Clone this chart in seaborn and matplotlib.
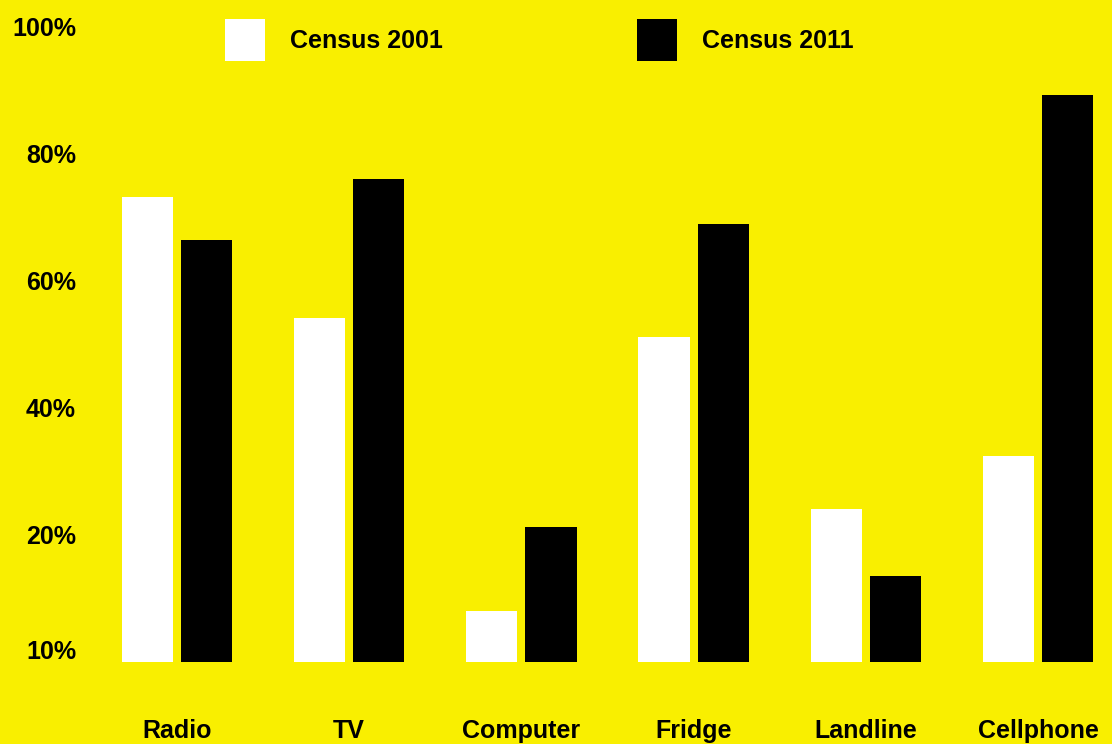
import pandas as pd
import matplotlib.pyplot as plt
import seaborn as sns

categories = ["Radio", "TV", "Computer", "Fridge", "Landline", "Cellphone"]
census_2001 = [73.2, 54.2, 8.0, 51.2, 24.1, 32.4]
census_2011 = [66.5, 76.1, 21.3, 69.0, 13.5, 89.3]
ytick_pos = [2, 20, 40, 60, 80, 100]
ytick_labels = ["10%", "20%", "40%", "60%", "80%", "100%"]

df = pd.DataFrame(
    {
        "item": categories * 2,
        "census": ["Census 2001"] * 6 + ["Census 2011"] * 6,
        "pct": census_2001 + census_2011,
    }
)

sns.set_theme(style="white")
plt.rcParams["font.family"] = ["Liberation Sans", "DejaVu Sans"]
plt.rcParams["font.weight"] = "bold"
plt.rcParams["text.color"] = "black"
plt.rcParams["xtick.color"] = "black"
plt.rcParams["ytick.color"] = "black"

bg = "#f9ef00"
fig = plt.figure(figsize=(11.12, 7.44), dpi=100, facecolor=bg)
ax = fig.add_axes([90 / 1112, 82 / 744, 1022 / 1112, 662 / 744])
ax.set_facecolor(bg)

sns.barplot(
    data=df,
    x="item",
    y="pct",
    hue="census",
    palette=["white", "black"],
    width=0.688,
    gap=0.136,
    linewidth=0,
    ax=ax,
)

ax.set_xlim(-0.505, 5.43)
ax.set_ylim(0, 104.25)
ax.set_yticks(ytick_pos)
ax.set_yticklabels(ytick_labels, fontsize=18, fontweight="bold", color="black")
ax.set_xticks(range(len(categories)))
ax.set_xticklabels(categories, fontsize=18, fontweight="bold", color="black")
ax.tick_params(axis="y", length=0, pad=10)
ax.tick_params(axis="x", length=0, pad=41)
ax.set_xlabel("")
ax.set_ylabel("")
for spine in ax.spines.values():
    spine.set_visible(False)

handles, labels = ax.get_legend_handles_labels()
ax.get_legend().remove()
fig.legend(
    handles,
    labels,
    ncol=2,
    loc="upper left",
    bbox_to_anchor=(225 / 1112, 1 - 19 / 744),
    frameon=False,
    borderpad=0,
    borderaxespad=0,
    handlelength=1.6,
    handleheight=2.2,
    handletextpad=1.0,
    columnspacing=7.75,
    prop={"size": 18, "weight": "bold"},
    labelcolor="black",
)

plt.savefig("out.png", dpi=100, facecolor=bg)
